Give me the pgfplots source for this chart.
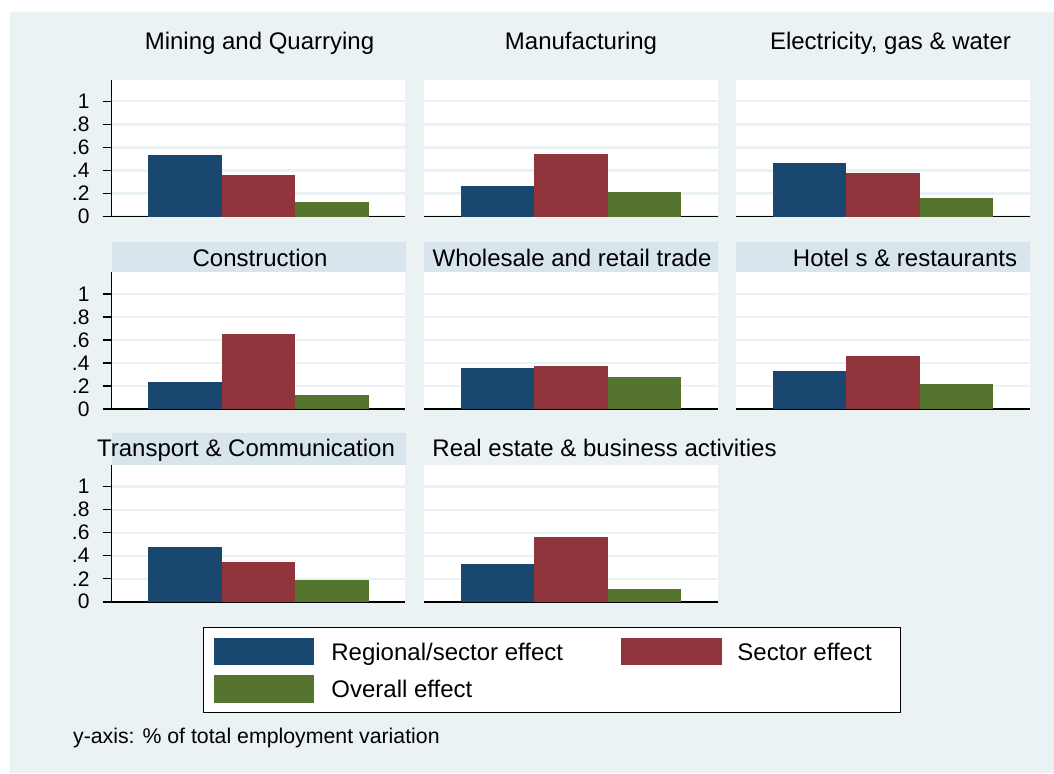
\documentclass[border=0pt]{standalone}
\usepackage{pgfplots}
\pgfplotsset{compat=1.18}
\usepackage{fontspec}
\setmainfont{Liberation Sans}
\definecolor{bgc}{RGB}{234,242,243}
\definecolor{stripc}{RGB}{217,229,236}
\definecolor{gridc}{RGB}{234,242,243}
\definecolor{c1}{RGB}{26,71,111}
\definecolor{c2}{RGB}{144,53,59}
\definecolor{c3}{RGB}{85,117,47}
\pgfplotsset{
 panel/.style={
  scale only axis, width=147pt, height=68.5pt,
  xmin=0, xmax=4, ymin=0, ymax=1.19,
  anchor=south west,
  axis background/.style={fill=white},
  xtick=\empty, ytick={0,0.2,0.4,0.6,0.8,1},
  ymajorgrids, grid style={gridc, line width=1.1pt},
  axis x line*=bottom, axis y line*=left,
  x axis line style={-, black, line width=0.8pt},
 },
 leftpanel/.style={panel,
  y axis line style={-, black, line width=0.8pt},
  yticklabels={0,.2,.4,.6,.8,1},
  tick align=outside, major tick length=4.5pt,
  ytick style={black, line width=0.8pt},
  yticklabel style={font=\fontsize{10.5}{11}\selectfont, xshift=-3pt},
  /pgf/number format/assume math mode=true},
 otherpanel/.style={panel, y axis line style={draw=none}, yticklabels={}, major tick length=0pt},
 b1/.style={ybar, bar width=1, bar shift=0pt, fill=c1, draw=none},
 b2/.style={ybar, bar width=1, bar shift=0pt, fill=c2, draw=none},
 b3/.style={ybar, bar width=1, bar shift=0pt, fill=c3, draw=none},
}
\begin{document}
\begin{tikzpicture}
\useasboundingbox (0,0) rectangle (527pt,386.5pt);
\fill[white] (0,0) rectangle (527pt,386.5pt);
\fill[bgc] (5pt,0) rectangle (527pt,380.5pt);
% strips
\fill[stripc] (55.75pt,250.5pt) rectangle (202.75pt,265.5pt);
\fill[stripc] (212pt,250.5pt) rectangle (359pt,265.5pt);
\fill[stripc] (368pt,250.5pt) rectangle (515pt,265.5pt);
\fill[stripc] (55.75pt,154.15pt) rectangle (202.75pt,170pt);
% Row 1
\begin{axis}[leftpanel, at={(55.75pt,278.25pt)}]
\addplot[b1] coordinates {(1,0.530)};
\addplot[b2] coordinates {(2,0.363)};
\addplot[b3] coordinates {(3,0.125)};
\end{axis}
\begin{axis}[otherpanel, at={(212pt,278.25pt)}]
\addplot[b1] coordinates {(1,0.264)};
\addplot[b2] coordinates {(2,0.543)};
\addplot[b3] coordinates {(3,0.212)};
\end{axis}
\begin{axis}[otherpanel, at={(368pt,278.25pt)}]
\addplot[b1] coordinates {(1,0.467)};
\addplot[b2] coordinates {(2,0.377)};
\addplot[b3] coordinates {(3,0.165)};
\end{axis}
% Row 2
\begin{axis}[leftpanel, at={(55.75pt,182pt)}]
\addplot[b1] coordinates {(1,0.235)};
\addplot[b2] coordinates {(2,0.651)};
\addplot[b3] coordinates {(3,0.122)};
\end{axis}
\begin{axis}[otherpanel, at={(212pt,182pt)}]
\addplot[b1] coordinates {(1,0.357)};
\addplot[b2] coordinates {(2,0.372)};
\addplot[b3] coordinates {(3,0.274)};
\end{axis}
\begin{axis}[otherpanel, at={(368pt,182pt)}]
\addplot[b1] coordinates {(1,0.329)};
\addplot[b2] coordinates {(2,0.460)};
\addplot[b3] coordinates {(3,0.213)};
\end{axis}
% Row 3
\begin{axis}[leftpanel, at={(55.75pt,85.65pt)}]
\addplot[b1] coordinates {(1,0.476)};
\addplot[b2] coordinates {(2,0.348)};
\addplot[b3] coordinates {(3,0.189)};
\end{axis}
\begin{axis}[otherpanel, at={(212pt,85.65pt)}]
\addplot[b1] coordinates {(1,0.328)};
\addplot[b2] coordinates {(2,0.565)};
\addplot[b3] coordinates {(3,0.113)};
\end{axis}
% titles
\begin{scope}[every node/.style={anchor=base, inner sep=0pt, font=\fontsize{12}{14}\selectfont}]
\node at (129.75pt,361.5pt) {Mining and Quarrying};
\node at (290.5pt,361.5pt) {Manufacturing};
\node at (445.25pt,361.5pt) {Electricity, gas \& water};
\node at (130pt,253.5pt) {Construction};
\node at (286pt,253.5pt) {Wholesale and retail trade};
\node at (452.5pt,253.5pt) {Hotel s \& restaurants};
\node at (123pt,158.15pt) {Transport \& Communication};
\node at (302.25pt,158.15pt) {Real estate \& business activities};
\end{scope}
% legend
\draw[black, line width=0.5pt, fill=white] (101.5pt,30.15pt) rectangle (450pt,73pt);
\fill[c1] (107pt,54pt) rectangle (157pt,67.65pt);
\fill[c2] (310.5pt,54pt) rectangle (361pt,67.65pt);
\fill[c3] (107pt,35.15pt) rectangle (157pt,49pt);
\begin{scope}[every node/.style={anchor=base west, inner sep=0pt, font=\fontsize{12}{14}\selectfont}]
\node at (165.5pt,56.5pt) {Regional/sector effect};
\node at (368.5pt,56.5pt) {Sector effect};
\node at (165.5pt,38pt) {Overall effect};
\end{scope}
\node[anchor=base west, inner sep=0pt, font=\fontsize{10.65}{12}\selectfont] at (36.35pt,15pt) {y-axis: \% of total employment variation};
\end{tikzpicture}
\end{document}
